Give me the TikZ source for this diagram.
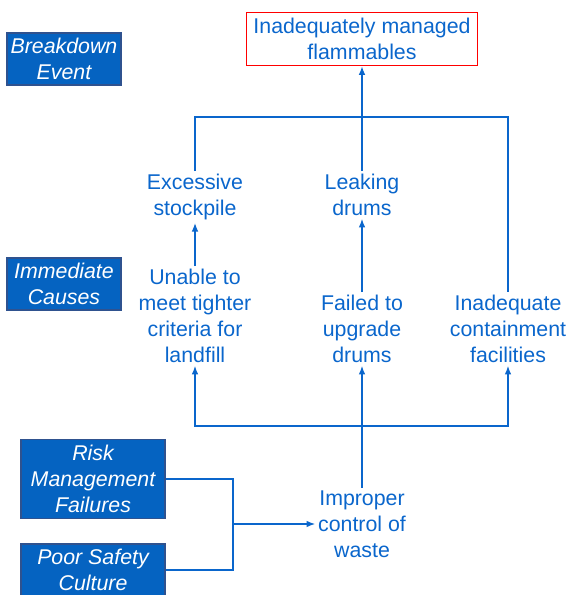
\documentclass[tikz,border=0pt]{standalone}
\usepackage{fontspec}
\setmainfont{Liberation Sans}
\usetikzlibrary{arrows.meta}

\definecolor{causeblue}{HTML}{0A66CC}
\definecolor{boxfill}{HTML}{0563C1}
\definecolor{boxedge}{HTML}{2F528F}

\tikzset{
  cause/.style={text=causeblue, align=center, inner sep=2pt,
    font=\fontsize{16}{19.5}\selectfont},
  levelbox/.style={fill=boxfill, draw=boxedge, line width=0.8pt, text=white,
    align=center, inner sep=1pt, minimum width=85.5pt, minimum height=39pt,
    font=\fontsize{16}{19.5}\selectfont\itshape},
  link/.style={causeblue, line width=1.1pt}
}

\begin{document}
\begin{tikzpicture}[>={Latex[length=6.5pt,width=5pt]}, x=0.75pt, y=-0.75pt]
            \useasboundingbox (0,0) rectangle (569,595);

            % Niveis
            \node[levelbox] (breakdown) at (64,59) {Breakdown\\Event};
            \node[levelbox] (immediate) at (64,284) {Immediate\\Causes};
            \node[levelbox, minimum width=108pt, minimum height=59pt] (risk) at (93,479) {Risk\\Management\\Failures};
            \node[levelbox, minimum width=108pt] (culture) at (93,570) {Poor Safety\\Culture};

            % Evento
            \node[cause, draw=red, line width=0.8pt, minimum width=173pt, minimum height=40pt] (flammables) at (362,39) {Inadequately managed\\flammables};

            % Causas imediatas
            \node[cause] (stockpile) at (195,197) {Excessive\\stockpile};
            \node[cause] (leaking) at (362,195) {Leaking\\drums};
            \node[cause] (unable) at (195,316) {Unable to\\meet tighter\\criteria for\\landfill};
            \node[cause] (failed) at (362,329) {Failed to\\upgrade\\drums};
            \node[cause] (containment) at (508,329) {Inadequate\\containment\\facilities};
            \node[cause] (improper) at (362,524) {Improper\\control of\\waste};

            \coordinate (jtop) at (362,117);
            \coordinate (jbot) at (362,426);
            \coordinate (jleft) at (233,524);

            % Ligacoes
            \draw[link, ->] (leaking) -- (flammables);
            \draw[link] (stockpile) |- (jtop) -| (containment);
            \draw[link, ->] (unable) -- (stockpile);
            \draw[link, ->] (failed) -- (leaking);
            \draw[link, ->] (improper) -- (failed);
            \draw[link, ->] (jbot) -| (unable);
            \draw[link, ->] (jbot) -| (containment);
            \draw[link] (risk) -| (jleft) |- (culture);
            \draw[link, ->] (jleft) -- (improper);
        \end{tikzpicture}
\end{document}
